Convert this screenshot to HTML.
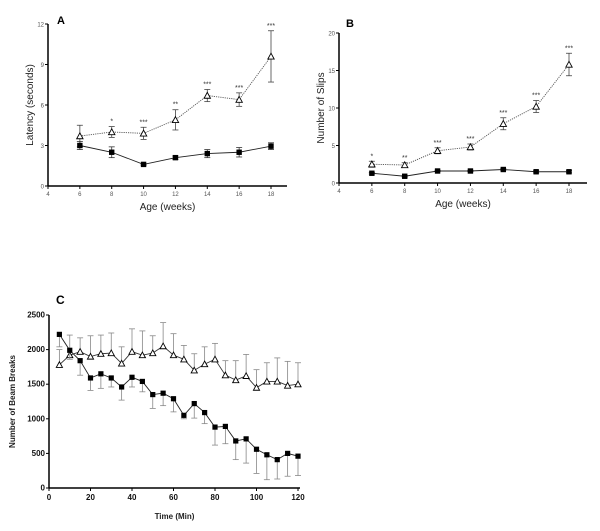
<!DOCTYPE html>
<html><head><meta charset="utf-8"><style>
html,body{margin:0;padding:0;background:#fff;}
svg{display:block;font-family:"Liberation Sans",Arial,sans-serif;}
</style></head><body>
<svg id="s" width="600" height="531" viewBox="0 0 600 531"></svg>
<script>
// Panel A data
const ageWeeks = [6,8,10,12,14,16,18];
const aTri = [3.7,4.0,3.9,4.9,6.7,6.4,9.6];
const aTriErr = [0.8,0.4,0.45,0.75,0.45,0.5,1.9];
const aSq = [3.0,2.5,1.6,2.1,2.4,2.5,2.95];
const aSqErr = [0.3,0.4,0.05,0.12,0.3,0.35,0.25];
const aStars = ["","*","***","**","***","***","***"];
const aYTicks = [0,3,6,9,12];
const ageTicks = [4,6,8,10,12,14,16,18];
// Panel B data
const bTri = [2.5,2.4,4.3,4.8,7.9,10.2,15.8];
const bTriErr = [0.4,0.3,0.4,0.4,0.8,0.8,1.5];
const bSq = [1.3,0.9,1.6,1.6,1.8,1.5,1.5];
const bSqErr = [0.1,0.1,0.1,0.1,0.1,0.15,0.15];
const bStars = ["*","**","***","***","***","***","***"];
const bYTicks = [0,5,10,15,20];
// Panel C data
const cTime = [5,10,15,20,25,30,35,40,45,50,55,60,65,70,75,80,85,90,95,100,105,110,115,120];
const cTri = [1780,1920,1970,1900,1940,1950,1800,1970,1920,1950,2050,1920,1860,1700,1790,1860,1630,1560,1620,1450,1540,1540,1480,1500];
const cTriErr = [220,290,200,300,270,290,240,330,350,250,340,310,200,240,250,230,210,280,310,260,270,340,350,310];
const cSq = [2220,1990,1840,1590,1650,1590,1460,1600,1540,1350,1370,1290,1050,1220,1090,880,890,680,710,560,480,410,500,460];
const cSqErr = [180,130,210,180,210,130,190,140,150,200,180,190,50,210,160,260,250,270,350,350,360,280,330,280];
const cYTicks = [0,500,1000,1500,2000,2500];
const cXTicks = [0,20,40,60,80,100,120];

const svg = document.getElementById('s');
const NS = 'http://www.w3.org/2000/svg';
function el(tag, attrs, parent){
  const e = document.createElementNS(NS, tag);
  for (const k in attrs) e.setAttribute(k, attrs[k]);
  (parent||svg).appendChild(e);
  return e;
}
function txt(s, x, y, attrs, parent){
  const t = el('text', Object.assign({x:x, y:y}, attrs), parent);
  t.textContent = s;
  return t;
}

function panel(cfg){
  const g = el('g', {});
  
  
  const X = v => cfg.x0 + (v - cfg.xmin) / (cfg.xmax - cfg.xmin) * (cfg.x1 - cfg.x0);
  const Y = v => cfg.y0 - (v - cfg.ymin) / (cfg.ymax - cfg.ymin) * (cfg.y0 - cfg.y1);
  const xa = el('line', {x1:cfg.x0, y1:cfg.y0, x2:cfg.xend, y2:cfg.y0, stroke:'#000', 'stroke-width':1.5}, g);
  
  
  const ya = el('line', {x1:cfg.x0, y1:cfg.y0, x2:cfg.x0, y2:cfg.y1, stroke:'#000', 'stroke-width':1.5}, g);
  
  
  cfg.yTicks.forEach(v => {
    el('line', {x1:cfg.x0-3, y1:Y(v), x2:cfg.x0, y2:Y(v), stroke:'#000'}, g);
    const t = txt(String(v), cfg.x0-4, Y(v)+2.5, {'text-anchor':'end', 'font-size':cfg.fs, fill:cfg.tc, 'font-weight':cfg.fw}, g);
    
    
  });
  cfg.xTicks.forEach(v => {
    el('line', {x1:X(v), y1:cfg.y0, x2:X(v), y2:cfg.y0+3, stroke:'#000'}, g);
    const t = txt(String(v), X(v), cfg.y0+cfg.fs+4, {'text-anchor':'middle', 'font-size':cfg.fs, fill:cfg.tc, 'font-weight':cfg.fw}, g);
    
    
  });
  const xt = txt(cfg.xTitle, (cfg.x0+cfg.xend)/2, cfg.xTitleY, {'text-anchor':'middle', 'font-size':cfg.tfs, 'font-weight':cfg.fw, fill:'#222'}, g);
  
  
  const yt = txt(cfg.yTitle, 0, 0, {'text-anchor':'middle', 'font-size':cfg.tfs, 'font-weight':cfg.fw, fill:'#222', transform:`translate(${cfg.yTitleX},${(cfg.y0+cfg.y1)/2}) rotate(-90)`}, g);
  
  
  const pl = txt(cfg.label, cfg.labelX, cfg.labelY, {'font-size':cfg.lfs, 'font-weight':'bold'}, g);
  
  

  // series
  cfg.series.forEach(s => {
    const sg = el('g', {}, g);
    
    
    s.err.forEach((e, i) => {
      const x = X(cfg.xs[i]), yv = s.vals[i];
      const ytop = s.dir === 'up' ? Y(yv + e) : Y(yv + e);
      const ybot = s.dir === 'up' ? Y(yv) : Y(yv - e);
      const yA = s.dir === 'both' ? Y(yv+e) : (s.dir === 'up' ? Y(yv+e) : Y(yv));
      const yB = s.dir === 'both' ? Y(yv-e) : (s.dir === 'up' ? Y(yv) : Y(yv-e));
      el('line', {x1:x, y1:yA, x2:x, y2:yB, stroke:s.ec, 'stroke-width':0.8}, sg);
      if (s.dir !== 'down') el('line', {x1:x-3, y1:yA, x2:x+3, y2:yA, stroke:s.ec, 'stroke-width':0.8}, sg);
      if (s.dir !== 'up') el('line', {x1:x-3, y1:yB, x2:x+3, y2:yB, stroke:s.ec, 'stroke-width':0.8}, sg);
    });
    const pts = s.vals.map((v, i) => X(cfg.xs[i]) + ',' + Y(v)).join(' ');
    el('polyline', {points:pts, fill:'none', stroke:s.lc, 'stroke-width':0.9, 'stroke-dasharray':s.dash||'none'}, sg);
    s.vals.forEach((v, i) => {
      const x = X(cfg.xs[i]), y = Y(v), r = cfg.ms;
      let m;
      if (s.marker === 'sq') m = el('rect', {x:x-r, y:y-r, width:2*r, height:2*r, fill:'#000'}, sg);
      else m = el('polygon', {points:`${x},${y-r-0.5} ${x-r-0.5},${y+r} ${x+r+0.5},${y+r}`, fill:'#fff', stroke:'#000', 'stroke-width':0.9}, sg);
      
      
    });
    if (s.stars) s.stars.forEach((st, i) => {
      if (!st) return;
      const t = txt(st, X(cfg.xs[i]), Y(s.vals[i] + s.err[i]) - 3, {'text-anchor':'middle', 'font-size':7, fill:'#333'}, sg);
      
      
    });
  });
}

panel({name:'panel-a-latency-chart', x0:48, x1:271, xend:287, xmin:4, xmax:18, y0:186, y1:24, ymin:0, ymax:12,
  yTicks:aYTicks, xTicks:ageTicks, xs:ageWeeks, fs:6, tc:'#555', fw:'normal', tfs:10,
  xTitle:'Age (weeks)', xTitleY:210, yTitle:'Latency (seconds)', yTitleX:33,
  label:'A', labelX:57, labelY:24, lfs:11, ms:2.7,
  series:[
    {name:'series-mutant-triangles', vals:aTri, err:aTriErr, dir:'both', marker:'tri', lc:'#555', ec:'#444', dash:'1.2,1', stars:aStars},
    {name:'series-control-squares', vals:aSq, err:aSqErr, dir:'both', marker:'sq', lc:'#222', ec:'#333'}
  ]});

panel({name:'panel-b-slips-chart', x0:339, x1:569, xend:587, xmin:4, xmax:18, y0:183, y1:33, ymin:0, ymax:20,
  yTicks:bYTicks, xTicks:ageTicks, xs:ageWeeks, fs:6, tc:'#555', fw:'normal', tfs:10,
  xTitle:'Age (weeks)', xTitleY:207, yTitle:'Number of Slips', yTitleX:324,
  label:'B', labelX:346, labelY:27, lfs:11, ms:2.7,
  series:[
    {name:'series-mutant-triangles', vals:bTri, err:bTriErr, dir:'both', marker:'tri', lc:'#555', ec:'#444', dash:'1.2,1', stars:bStars},
    {name:'series-control-squares', vals:bSq, err:bSqErr, dir:'both', marker:'sq', lc:'#222', ec:'#333'}
  ]});

panel({name:'panel-c-beam-breaks-chart', x0:49, x1:298, xend:300, xmin:0, xmax:120, y0:488, y1:315, ymin:0, ymax:2500,
  yTicks:cYTicks, xTicks:cXTicks, xs:cTime, fs:8, tc:'#111', fw:'bold', tfs:8,
  xTitle:'Time (Min)', xTitleY:519, yTitle:'Number of Beam Breaks', yTitleX:15,
  label:'C', labelX:56, labelY:304, lfs:12, ms:2.6,
  series:[
    {name:'series-triangles', vals:cTri, err:cTriErr, dir:'up', marker:'tri', lc:'#333', ec:'#888'},
    {name:'series-squares', vals:cSq, err:cSqErr, dir:'down', marker:'sq', lc:'#222', ec:'#888'}
  ]});
</script>
</body></html>
